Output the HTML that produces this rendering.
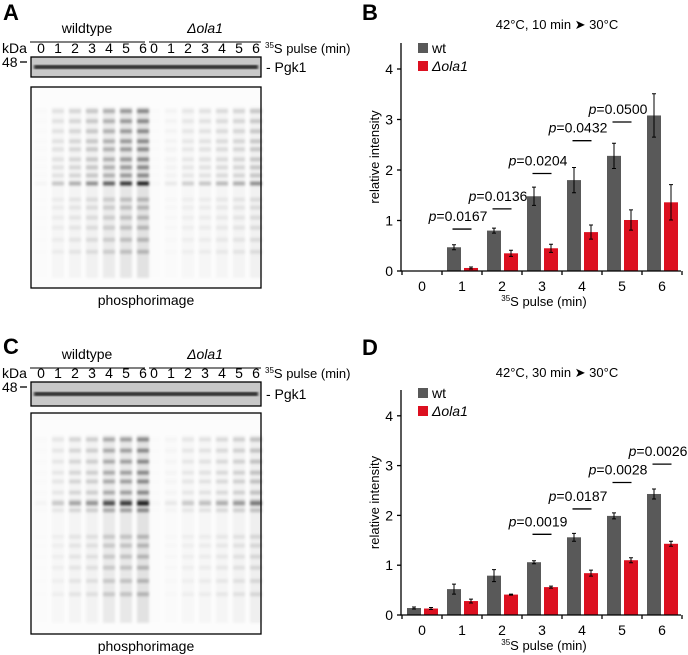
<!DOCTYPE html>
<html><head><meta charset="utf-8"><style>
html,body{margin:0;padding:0;background:#fff;}
svg{display:block;font-family:"Liberation Sans",Arial,sans-serif;}
</style></head><body>
<svg id="fig" width="688" height="655" viewBox="0 0 688 655" xmlns="http://www.w3.org/2000/svg">
<defs><filter id="blur" x="-30%" y="-5%" width="160%" height="110%"><feGaussianBlur stdDeviation="1.3"/></filter></defs>
</svg>
<script>
// ---- chart data ----
const categories = ["0","1","2","3","4","5","6"];
const yTicks = [0,1,2,3,4];
const bWt = [0,0.47,0.8,1.48,1.8,2.28,3.08];
const bWtErr = [0,0.05,0.05,0.18,0.25,0.25,0.43];
const bOla = [0,0.06,0.35,0.45,0.77,1.01,1.36];
const bOlaErr = [0,0.02,0.06,0.08,0.14,0.2,0.35];
const bPCats = [1,2,3,4,5];
const bPLabels = ["0.0167","0.0136","0.0204","0.0432","0.0500"];
const bPLevels = [0.83,1.23,1.93,2.58,2.95];
const dWt = [0.14,0.52,0.79,1.06,1.56,1.99,2.43];
const dWtErr = [0.02,0.1,0.12,0.03,0.08,0.06,0.1];
const dOla = [0.13,0.28,0.41,0.56,0.84,1.1,1.43];
const dOlaErr = [0.02,0.04,0.01,0.02,0.06,0.05,0.05];
const dPCats = [3,4,5,6];
const dPLabels = ["0.0019","0.0187","0.0028","0.0026"];
const dPLevels = [1.62,2.13,2.66,3.03];
// gel lane intensity estimates
const laneNums = ["0","1","2","3","4","5","6"];
const aWtLanes = [0.03,0.22,0.32,0.45,0.65,0.85,1];
const aOlaLanes = [0.02,0.08,0.18,0.22,0.27,0.32,0.45];
const cWtLanes = [0.03,0.18,0.32,0.38,0.7,0.8,1];
const cOlaLanes = [0.02,0.07,0.18,0.22,0.28,0.36,0.5];

const NS="http://www.w3.org/2000/svg";
const svg=document.getElementById('fig');
function mk(tag,attrs,parent,text){const e=document.createElementNS(NS,tag);for(const k in attrs)e.setAttribute(k,attrs[k]);if(text!==undefined)e.textContent=text;(parent||svg).appendChild(e);return e;}

function panelLabel(t,x,y){
  const e=mk('text',{x:x,y:y,'font-size':22,'font-weight':'bold'},svg,t);
  
  
}

function chart(o){
  const g=mk('g',{});
  
  
  const x0=401,xEnd=681,y0=o.y0,unit=o.unit,top=o.top;
  const xc=i=>422+i*40;
  const ys=v=>y0-v*unit;
  const t=mk('text',{x:557,y:o.titleY,'font-size':13,'text-anchor':'middle'},g,o.title);
  
  
  function series(vals,errs,off,color,nm){
    vals.forEach((v,i)=>{
      const r=mk('rect',{x:xc(i)+off-7,y:ys(v),width:14,height:v*unit,fill:color},g);
      
      
      if(errs[i]>0){
        const e=mk('path',{d:`M${xc(i)+off} ${ys(v+errs[i])}V${ys(v-errs[i])}M${xc(i)+off-2} ${ys(v+errs[i])}h4M${xc(i)+off-2} ${ys(v-errs[i])}h4`,stroke:'#000','stroke-width':1,fill:'none'},g);
        
        
      }
    });
  }
  series(o.wt,o.wtErr,-8,'#595959','wt');
  series(o.ola,o.olaErr,9,'#dc1020','ola1');
  const ax=mk('path',{d:`M${x0} ${top}V${y0}H${xEnd}`,stroke:'#000','stroke-width':1.3,fill:'none'},g);
  
  
  yTicks.forEach(v=>{
    mk('line',{x1:x0-4,x2:x0,y1:ys(v),y2:ys(v),stroke:'#000','stroke-width':1.3},g);
    const l=mk('text',{x:x0-8,y:ys(v)+5,'font-size':14,'text-anchor':'end'},g,String(v));
    
    
  });
  for(let i=0;i<=categories.length;i++){
    mk('line',{x1:xc(i)-20,x2:xc(i)-20,y1:y0,y2:y0+4,stroke:'#000','stroke-width':1.3},g);
  }
  categories.forEach((c,i)=>{
    const l=mk('text',{x:xc(i),y:y0+20,'font-size':14,'text-anchor':'middle'},g,c);
    
    
  });
  const yl=mk('text',{x:0,y:0,'font-size':13,'text-anchor':'middle',transform:`translate(379 ${(top+y0)/2}) rotate(-90)`},g,'relative intensity');
  
  
  const xl=mk('text',{x:544,y:y0+35,'font-size':13,'text-anchor':'middle'},g);
  
  
  mk('tspan',{'font-size':8,dy:-5},xl,'35');
  mk('tspan',{dy:5},xl,'S pulse (min)');
  const lg=mk('g',{},g);
  
  
  mk('rect',{x:418,y:o.legY-5,width:10,height:10,fill:'#595959'},lg);
  mk('text',{x:432,y:o.legY+5,'font-size':14},lg,'wt');
  mk('rect',{x:418,y:o.legY+13,width:10,height:10,fill:'#dc1020'},lg);
  mk('text',{x:432,y:o.legY+23,'font-size':14,'font-style':'italic'},lg,'\u0394ola1');
  o.pCats.forEach((c,k)=>{
    const y=ys(o.pLevels[k]);
    const ln=mk('line',{x1:xc(c)-9.5,x2:xc(c)+9.5,y1:y,y2:y,stroke:'#000','stroke-width':1.3},g);
    
    
    const tx=mk('text',{x:xc(c)-4,y:y-8,'font-size':14,'text-anchor':'middle'},g);
    
    
    mk('tspan',{'font-style':'italic'},tx,'p');
    mk('tspan',{},tx,'='+o.pLabels[k]);
  });
}

function gel(o){
  const g=mk('g',{});
  
  
  const lx=i=>41+i*17, rx=i=>154+i*17;
  const t1=mk('text',{x:87,y:o.hY,'font-size':14,'text-anchor':'middle'},g,'wildtype');
  
  
  const t2=mk('text',{x:205,y:o.hY,'font-size':14,'text-anchor':'middle','font-style':'italic'},g,'\u0394ola1');
  
  
  mk('line',{x1:30,x2:145,y1:o.hY+9,y2:o.hY+9,stroke:'#000','stroke-width':1},g);
  mk('line',{x1:149,x2:261,y1:o.hY+9,y2:o.hY+9,stroke:'#000','stroke-width':1},g);
  const kda=mk('text',{x:2,y:o.laneY,'font-size':14},g,'kDa');
  
  
  mk('text',{x:2,y:o.laneY+14,'font-size':14},g,'48');
  mk('line',{x1:20,x2:27,y1:o.laneY+9,y2:o.laneY+9,stroke:'#000','stroke-width':1.3},g);
  laneNums.forEach((n,i)=>{
    mk('text',{x:lx(i),y:o.laneY,'font-size':14,'text-anchor':'middle'},g,n);
    mk('text',{x:rx(i),y:o.laneY,'font-size':14,'text-anchor':'middle'},g,n);
  });
  const pl=mk('text',{x:265,y:o.laneY,'font-size':13},g);
  
  
  mk('tspan',{'font-size':8,dy:-5},pl,'35');
  mk('tspan',{dy:5},pl,'S pulse (min)');
  const b=mk('rect',{x:31,y:o.bY,width:230,height:o.bH,fill:'#c8c8c8',stroke:'#000','stroke-width':1.3},g);
  
  
  mk('rect',{x:34,y:o.bY+o.bH/2-2,width:224,height:4,fill:'#222',filter:'url(#blur)'},g);
  const pg=mk('text',{x:266,y:o.bY+o.bH/2+5,'font-size':14},g,'- Pgk1');
  
  
  const p=mk('rect',{x:31,y:o.pY,width:230,height:o.pH,fill:'#fcfcfc',stroke:'#000','stroke-width':1.3},g);
  
  
  const bands=[0.12,0.17,0.22,0.27,0.31,0.36,0.4,0.44,o.strong,0.56,0.6,0.65,0.7,0.76,0.82];
  function lanes(f,xf){
    f.forEach((v,i)=>{
      const lg=mk('g',{filter:'url(#blur)'},g);
      mk('rect',{x:xf(i)-6,y:o.pY+o.pH*0.1,width:12,height:o.pH*0.85,fill:'#000',opacity:v*0.1},lg);
      bands.forEach((bf,k)=>{
        const s=(bf===o.strong)?0.9:(k<9?0.4:0.22);
        mk('rect',{x:xf(i)-6,y:o.pY+o.pH*bf-2,width:12,height:4,fill:'#000',opacity:Math.min(0.85,v*s)},lg);
      });
    });
  }
  lanes(o.wtL,lx); lanes(o.olaL,rx);
  const pt=mk('text',{x:146,y:o.pY+o.pH+17,'font-size':14,'text-anchor':'middle'},g,'phosphorimage');
  
  
}

gel({name:'gel-panel-a',hY:33,laneY:53,bY:57,bH:20,pY:87,pH:201,wtL:aWtLanes,olaL:aOlaLanes,strong:0.48});
gel({name:'gel-panel-c',hY:359,laneY:378,bY:382,bH:24,pY:413,pH:221,wtL:cWtLanes,olaL:cOlaLanes,strong:0.41});
chart({name:'chart-panel-b',y0:271,unit:50.5,top:43,titleY:29,title:'42\u00B0C, 10 min \u27A4 30\u00B0C',legY:48,wt:bWt,wtErr:bWtErr,ola:bOla,olaErr:bOlaErr,pCats:bPCats,pLabels:bPLabels,pLevels:bPLevels});
chart({name:'chart-panel-d',y0:615,unit:49.8,top:390,titleY:377,title:'42\u00B0C, 30 min \u27A4 30\u00B0C',legY:393,wt:dWt,wtErr:dWtErr,ola:dOla,olaErr:dOlaErr,pCats:dPCats,pLabels:dPLabels,pLevels:dPLevels});
panelLabel('A',3,20);panelLabel('B',362,20);panelLabel('C',3,354);panelLabel('D',362,355);
</script>
</body></html>
